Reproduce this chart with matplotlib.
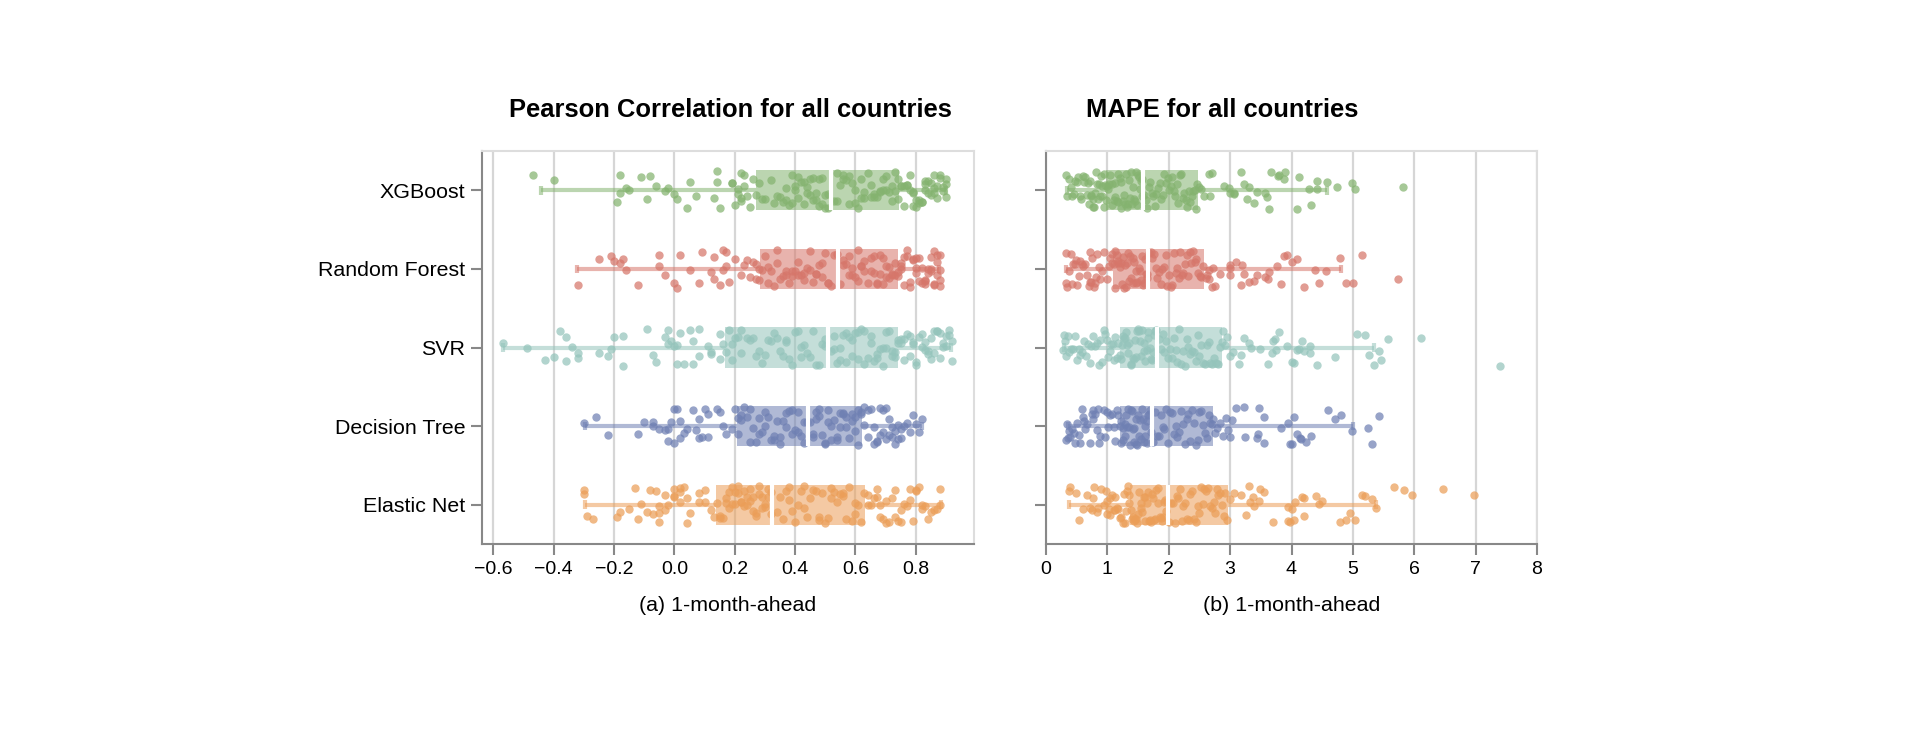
import numpy as np
import matplotlib.pyplot as plt

plt.rcParams['font.family'] = 'Liberation Sans'

# --- data ---
models = ["XGBoost", "Random Forest", "SVR", "Decision Tree", "Elastic Net"]
colors = ["#84b36f", "#d6766a", "#94c4bb", "#6f80b3", "#eb9e58"]

# Pearson correlation per country, 1-month-ahead
pearson_xgb = [
    -0.47, -0.40, -0.19, -0.18, -0.18, -0.16, -0.15, -0.11, -0.09, -0.08, -0.06, -0.03,
    -0.02, 0.00, 0.01, 0.04, 0.05, 0.07, 0.13, 0.14, 0.14, 0.15, 0.19, 0.19, 0.20, 0.21,
    0.21, 0.22, 0.22, 0.22, 0.23, 0.23, 0.24, 0.25, 0.26, 0.27,
    0.28, 0.29, 0.30, 0.32, 0.33, 0.34, 0.35, 0.36, 0.37, 0.37, 0.38, 0.39, 0.39, 0.40,
    0.40, 0.41, 0.41, 0.42, 0.43, 0.43, 0.44, 0.44, 0.45, 0.45, 0.46, 0.46, 0.47, 0.47,
    0.48, 0.48, 0.49, 0.49, 0.50, 0.50, 0.51, 0.51,
    0.53, 0.54, 0.54, 0.55, 0.56, 0.56, 0.57, 0.58, 0.58, 0.59, 0.60, 0.60, 0.61, 0.62,
    0.62, 0.63, 0.63, 0.64, 0.65, 0.65, 0.66, 0.66, 0.67, 0.68, 0.68, 0.69, 0.69, 0.70,
    0.70, 0.71, 0.72, 0.72, 0.73, 0.73, 0.74, 0.74,
    0.75, 0.75, 0.76, 0.76, 0.77, 0.77, 0.78, 0.78, 0.79, 0.79, 0.79, 0.80, 0.80, 0.81,
    0.81, 0.82, 0.82, 0.83, 0.83, 0.83, 0.84, 0.84, 0.85, 0.85, 0.86, 0.86, 0.86, 0.87,
    0.87, 0.88, 0.88, 0.89, 0.89, 0.90, 0.90, 0.90]
pearson_rf = [
    -0.32, -0.25, -0.21, -0.20, -0.18, -0.17, -0.16, -0.12, -0.05, -0.05, -0.03, 0.00,
    0.01, 0.02, 0.05, 0.08, 0.09, 0.12, 0.13, 0.13, 0.15, 0.16, 0.16, 0.17, 0.17, 0.18,
    0.20, 0.22, 0.23, 0.24, 0.25, 0.26, 0.27, 0.27, 0.28, 0.28,
    0.29, 0.30, 0.31, 0.31, 0.32, 0.33, 0.34, 0.34, 0.35, 0.36, 0.37, 0.37, 0.38, 0.39,
    0.39, 0.40, 0.41, 0.41, 0.42, 0.43, 0.43, 0.44, 0.45, 0.45, 0.46, 0.47, 0.47, 0.48,
    0.49, 0.49, 0.50, 0.51, 0.51, 0.52, 0.53, 0.54,
    0.55, 0.56, 0.56, 0.57, 0.58, 0.58, 0.59, 0.59, 0.60, 0.61, 0.61, 0.62, 0.62, 0.63,
    0.63, 0.64, 0.65, 0.65, 0.66, 0.66, 0.67, 0.67, 0.68, 0.68, 0.69, 0.69, 0.70, 0.70,
    0.71, 0.71, 0.72, 0.72, 0.73, 0.73, 0.74, 0.74,
    0.75, 0.75, 0.75, 0.76, 0.76, 0.77, 0.77, 0.78, 0.78, 0.79, 0.79, 0.80, 0.80, 0.80,
    0.81, 0.81, 0.82, 0.82, 0.83, 0.83, 0.83, 0.84, 0.84, 0.85, 0.85, 0.85, 0.86, 0.86,
    0.86, 0.87, 0.87, 0.87, 0.88, 0.88, 0.88, 0.88]
pearson_svr = [
    -0.57, -0.49, -0.43, -0.40, -0.38, -0.36, -0.36, -0.34, -0.32, -0.32, -0.25, -0.22,
    -0.21, -0.20, -0.17, -0.17, -0.09, -0.07, -0.06, -0.03, -0.02, -0.02, -0.01, 0.00,
    0.01, 0.01, 0.02, 0.03, 0.05, 0.06, 0.06, 0.08, 0.08, 0.11, 0.12, 0.12, 0.15, 0.15, 0.16,
    0.17, 0.18, 0.19, 0.19, 0.20, 0.21, 0.22, 0.22, 0.24, 0.25, 0.26, 0.27, 0.28, 0.29,
    0.30, 0.31, 0.32, 0.33, 0.34, 0.35, 0.36, 0.37, 0.37, 0.38, 0.39, 0.40, 0.41, 0.42,
    0.42, 0.43, 0.44, 0.45, 0.46, 0.47, 0.48, 0.49, 0.50, 0.50,
    0.52, 0.53, 0.53, 0.54, 0.55, 0.55, 0.56, 0.57, 0.57, 0.58, 0.59, 0.59, 0.60, 0.61,
    0.61, 0.62, 0.63, 0.63, 0.64, 0.65, 0.65, 0.66, 0.67, 0.67, 0.68, 0.69, 0.69, 0.70,
    0.70, 0.71, 0.72, 0.72, 0.73, 0.73, 0.74, 0.74,
    0.75, 0.75, 0.76, 0.76, 0.77, 0.78, 0.78, 0.79, 0.79, 0.80, 0.80, 0.81, 0.82, 0.82,
    0.83, 0.83, 0.84, 0.84, 0.85, 0.85, 0.86, 0.86, 0.87, 0.87, 0.88, 0.88, 0.89, 0.89,
    0.90, 0.90, 0.91, 0.91, 0.92, 0.92]
pearson_dt = [
    -0.30, -0.26, -0.22, -0.12, -0.10, -0.07, -0.07, -0.05, -0.03, -0.02, -0.02, 0.00,
    0.01, -0.01, 0.00, 0.02, 0.02, 0.03, 0.04, 0.06, 0.08, 0.07, 0.08, 0.09, 0.10, 0.11,
    0.11, 0.14, 0.15, 0.16, 0.17, 0.19, 0.20, 0.21,
    0.21, 0.22, 0.22, 0.23, 0.24, 0.25, 0.25, 0.26, 0.27, 0.28, 0.28, 0.29, 0.30, 0.30,
    0.31, 0.32, 0.33, 0.33, 0.34, 0.35, 0.35, 0.36, 0.37, 0.37, 0.38, 0.39, 0.39, 0.40,
    0.41, 0.41, 0.42, 0.43, 0.43, 0.44,
    0.45, 0.46, 0.46, 0.47, 0.47, 0.48, 0.48, 0.49, 0.50, 0.50, 0.51, 0.51, 0.52, 0.52,
    0.53, 0.54, 0.54, 0.55, 0.55, 0.56, 0.56, 0.57, 0.57, 0.58, 0.59, 0.59, 0.60, 0.60,
    0.61, 0.61, 0.62, 0.62,
    0.63, 0.63, 0.64, 0.64, 0.65, 0.66, 0.66, 0.67, 0.67, 0.68, 0.68, 0.69, 0.69, 0.70,
    0.70, 0.71, 0.71, 0.72, 0.72, 0.73, 0.73, 0.74, 0.74, 0.75, 0.75, 0.76, 0.77, 0.78,
    0.79, 0.80, 0.81, 0.82]
pearson_en = [
    -0.30, -0.30, -0.29, -0.27, -0.19, -0.18, -0.15, -0.13, -0.12, -0.11, -0.09, -0.08,
    -0.07, -0.06, -0.05, -0.05, -0.05, -0.03, -0.03, -0.02, 0.00, 0.00, 0.00, 0.02, 0.02,
    0.02, 0.03, 0.04, 0.04, 0.05, 0.08, 0.08, 0.10, 0.10, 0.12, 0.13,
    0.14, 0.15, 0.15, 0.16, 0.17, 0.17, 0.18, 0.18, 0.19, 0.19, 0.20, 0.20, 0.21, 0.21,
    0.22, 0.22, 0.23, 0.23, 0.24, 0.24, 0.25, 0.25, 0.26, 0.26, 0.27, 0.27, 0.28, 0.28,
    0.29, 0.29, 0.30, 0.30, 0.31, 0.31, 0.32, 0.32,
    0.34, 0.35, 0.36, 0.37, 0.38, 0.38, 0.39, 0.40, 0.41, 0.42, 0.43, 0.43, 0.44, 0.45,
    0.46, 0.47, 0.48, 0.48, 0.49, 0.50, 0.51, 0.52, 0.52, 0.53, 0.54, 0.55, 0.56, 0.56,
    0.57, 0.58, 0.59, 0.60, 0.60, 0.61, 0.62, 0.63,
    0.64, 0.64, 0.65, 0.66, 0.67, 0.67, 0.68, 0.68, 0.69, 0.70, 0.70, 0.71, 0.72, 0.73,
    0.73, 0.74, 0.75, 0.75, 0.76, 0.77, 0.78, 0.78, 0.79, 0.80, 0.80, 0.81, 0.82, 0.82,
    0.83, 0.84, 0.85, 0.86, 0.87, 0.88, 0.88]

# MAPE per country, 1-month-ahead
mape_xgb = [
    0.32, 0.34, 0.37, 0.40, 0.42, 0.45, 0.48, 0.50, 0.52, 0.55, 0.57, 0.60, 0.62, 0.64,
    0.66, 0.68, 0.70, 0.71, 0.73, 0.74, 0.76, 0.77, 0.79, 0.80, 0.82, 0.83, 0.85, 0.86,
    0.88, 0.89, 0.91, 0.92, 0.94, 0.95, 0.96, 0.98,
    1.00, 1.01, 1.03, 1.05, 1.07, 1.08, 1.10, 1.12, 1.13, 1.15, 1.17, 1.18, 1.20, 1.22,
    1.23, 1.25, 1.27, 1.28, 1.30, 1.32, 1.33, 1.35, 1.37, 1.38, 1.40, 1.42, 1.43, 1.45,
    1.47, 1.48, 1.50, 1.52, 1.53, 1.55, 1.56, 1.57,
    1.60, 1.63, 1.65, 1.68, 1.70, 1.73, 1.75, 1.78, 1.80, 1.83, 1.85, 1.88, 1.90, 1.93,
    1.95, 1.98, 2.00, 2.03, 2.05, 2.08, 2.10, 2.13, 2.15, 2.18, 2.20, 2.23, 2.25, 2.28,
    2.30, 2.33, 2.35, 2.38, 2.40, 2.43, 2.45, 2.46,
    2.49, 2.52, 2.57, 2.65, 2.68, 2.70, 2.90, 2.98, 3.00, 3.06, 3.07, 3.17, 3.22, 3.28,
    3.30, 3.39, 3.44, 3.57, 3.60, 3.63, 3.66, 3.78, 3.79, 3.87, 3.90, 4.09, 4.12, 4.28,
    4.32, 4.42, 4.42, 4.58, 4.74, 4.98, 5.04, 5.82]
mape_rf = [
    0.32, 0.33, 0.35, 0.37, 0.40, 0.42, 0.44, 0.47, 0.49, 0.50, 0.53, 0.56, 0.59, 0.61,
    0.63, 0.66, 0.70, 0.71, 0.72, 0.74, 0.75, 0.78, 0.80, 0.82, 0.83, 0.86, 0.88, 0.91,
    0.94, 0.99, 1.02, 1.05, 1.07, 1.08,
    1.10, 1.12, 1.13, 1.15, 1.17, 1.18, 1.20, 1.22, 1.24, 1.25, 1.27, 1.29, 1.30, 1.32,
    1.34, 1.36, 1.37, 1.39, 1.41, 1.42, 1.44, 1.46, 1.47, 1.49, 1.51, 1.53, 1.54, 1.56,
    1.58, 1.59, 1.61, 1.63, 1.64, 1.65,
    1.68, 1.71, 1.73, 1.76, 1.79, 1.81, 1.84, 1.87, 1.89, 1.92, 1.95, 1.97, 2.00, 2.03,
    2.05, 2.08, 2.11, 2.13, 2.16, 2.19, 2.21, 2.24, 2.27, 2.29, 2.32, 2.35, 2.37, 2.40,
    2.43, 2.45, 2.48, 2.51, 2.53, 2.56,
    2.60, 2.63, 2.65, 2.66, 2.70, 2.72, 2.76, 2.84, 2.99, 2.99, 3.00, 3.10, 3.17, 3.20,
    3.22, 3.30, 3.39, 3.43, 3.57, 3.62, 3.64, 3.76, 3.83, 3.87, 3.92, 4.01, 4.09, 4.21,
    4.39, 4.44, 4.57, 4.79, 4.88, 5.00, 5.15, 5.73]
mape_svr = [
    0.27, 0.29, 0.31, 0.33, 0.36, 0.38, 0.41, 0.44, 0.47, 0.50, 0.53, 0.56, 0.59, 0.62,
    0.65, 0.68, 0.71, 0.74, 0.77, 0.80, 0.83, 0.86, 0.88, 0.91, 0.94, 0.96, 0.99, 1.01,
    1.04, 1.06, 1.09, 1.11, 1.13, 1.16, 1.18, 1.20,
    1.22, 1.24, 1.26, 1.27, 1.29, 1.31, 1.32, 1.34, 1.36, 1.38, 1.39, 1.41, 1.43, 1.45,
    1.46, 1.48, 1.50, 1.52, 1.53, 1.55, 1.57, 1.59, 1.60, 1.62, 1.64, 1.66, 1.67, 1.69,
    1.71, 1.73, 1.74, 1.76, 1.78, 1.79,
    1.84, 1.87, 1.90, 1.93, 1.96, 1.99, 2.02, 2.05, 2.08, 2.11, 2.14, 2.17, 2.20, 2.23,
    2.26, 2.29, 2.32, 2.35, 2.38, 2.41, 2.44, 2.47, 2.50, 2.53, 2.56, 2.59, 2.62, 2.65,
    2.68, 2.71, 2.74, 2.77, 2.80, 2.83, 2.86,
    2.89, 2.92, 2.95, 3.00, 3.05, 3.14, 3.18, 3.22, 3.30, 3.34, 3.49, 3.61, 3.68, 3.70,
    3.73, 3.74, 3.79, 3.92, 4.00, 4.04, 4.09, 4.13, 4.17, 4.20, 4.30, 4.30, 4.41, 4.71,
    5.06, 5.20, 5.27, 5.34, 5.42, 5.46, 5.57, 6.11, 7.40]
mape_dt = [
    0.33, 0.34, 0.36, 0.38, 0.39, 0.42, 0.45, 0.48, 0.51, 0.53, 0.56, 0.58, 0.61, 0.62,
    0.64, 0.67, 0.72, 0.75, 0.76, 0.77, 0.80, 0.83, 0.84, 0.86, 0.88, 0.94, 0.96, 0.99,
    1.01, 1.05, 1.07, 1.10, 1.13, 1.16, 1.18, 1.20,
    1.22, 1.23, 1.25, 1.26, 1.28, 1.29, 1.31, 1.32, 1.34, 1.35, 1.37, 1.38, 1.40, 1.41,
    1.43, 1.44, 1.46, 1.47, 1.49, 1.50, 1.52, 1.53, 1.55, 1.56, 1.58, 1.59, 1.61, 1.62,
    1.64, 1.65, 1.67, 1.68, 1.70, 1.71,
    1.75, 1.78, 1.81, 1.84, 1.87, 1.90, 1.93, 1.96, 1.99, 2.02, 2.05, 2.08, 2.11, 2.14,
    2.17, 2.20, 2.23, 2.26, 2.29, 2.32, 2.35, 2.38, 2.41, 2.44, 2.47, 2.50, 2.53, 2.56,
    2.59, 2.62, 2.65, 2.68, 2.70,
    2.72, 2.75, 2.79, 2.84, 2.88, 2.94, 2.97, 3.00, 3.03, 3.10, 3.22, 3.24, 3.44, 3.45,
    3.47, 3.56, 3.56, 3.83, 3.95, 3.97, 4.00, 4.04, 4.09, 4.14, 4.16, 4.24, 4.31, 4.60,
    4.71, 4.80, 4.98, 5.24, 5.31, 5.42]
mape_en = [
    0.38, 0.39, 0.49, 0.53, 0.60, 0.67, 0.72, 0.75, 0.77, 0.78, 0.83, 0.85, 0.89, 0.94,
    0.97, 0.99, 1.00, 1.02, 1.04, 1.05, 1.08, 1.10, 1.12, 1.13, 1.16, 1.17, 1.20, 1.22,
    1.25, 1.27, 1.29, 1.30, 1.32, 1.34, 1.35, 1.36,
    1.38, 1.40, 1.41, 1.43, 1.45, 1.47, 1.48, 1.50, 1.52, 1.54, 1.55, 1.57, 1.59, 1.61,
    1.62, 1.64, 1.66, 1.68, 1.69, 1.71, 1.73, 1.75, 1.76, 1.78, 1.80, 1.82, 1.83, 1.85,
    1.87, 1.89, 1.90, 1.92, 1.94, 1.96, 1.97,
    2.01, 2.04, 2.07, 2.10, 2.13, 2.15, 2.18, 2.21, 2.24, 2.27, 2.30, 2.33, 2.35, 2.38,
    2.41, 2.44, 2.47, 2.50, 2.53, 2.55, 2.58, 2.61, 2.64, 2.67, 2.70, 2.73, 2.75, 2.78,
    2.81, 2.84, 2.87, 2.90, 2.92, 2.95,
    2.99, 3.07, 3.18, 3.26, 3.31, 3.33, 3.37, 3.39, 3.47, 3.49, 3.55, 3.70, 3.94, 3.95,
    3.97, 4.01, 4.04, 4.06, 4.17, 4.20, 4.21, 4.40, 4.44, 4.49, 4.79, 4.89, 4.95, 5.03,
    5.15, 5.20, 5.31, 5.38, 5.67, 5.84, 5.96, 6.47, 6.97]

# box plot summaries as drawn in the figure: q1, median, q3, whisker ends
pearson_q1 = [0.270, 0.284, 0.168, 0.208, 0.138]
pearson_median = [0.520, 0.543, 0.510, 0.444, 0.324]
pearson_q3 = [0.744, 0.740, 0.742, 0.623, 0.632]
pearson_lo = [-0.442, -0.324, -0.569, -0.296, -0.296]
pearson_hi = [0.900, 0.878, 0.917, 0.821, 0.882]

mape_q1 = [0.983, 1.09, 1.21, 1.21, 1.363]
mape_median = [1.58, 1.657, 1.81, 1.727, 1.98]
mape_q3 = [2.47, 2.57, 2.87, 2.72, 2.96]
mape_lo = [0.342, 0.326, 0.288, 0.358, 0.38]
mape_hi = [4.58, 4.80, 5.34, 5.00, 5.38]

pearson_ticks = [-0.6, -0.4, -0.2, 0.0, 0.2, 0.4, 0.6, 0.8]
mape_ticks = [0, 1, 2, 3, 4, 5, 6, 7, 8]

# --- style ---
BOX_H = 0.51
CAP_H = 0.055
JIT = 0.24
AXIS_GREY = "#888888"

rng = np.random.default_rng(3)  # vertical jitter only


def draw_panel(ax, series, q1, med, q3, lo, hi):
    ys = np.arange(len(models))
    ax.barh(ys, np.subtract(q3, q1), left=q1, height=BOX_H, color=colors,
            alpha=0.55, linewidth=0, zorder=2)
    for i, vals in enumerate(series):
        c = colors[i]
        ax.hlines([i, i], [lo[i], q3[i]], [q1[i], hi[i]], color=c, alpha=0.55, lw=3, zorder=2)
        ax.vlines([lo[i], hi[i]], i - CAP_H, i + CAP_H, color=c, alpha=0.55, lw=3, zorder=2)
        jitter = rng.uniform(-JIT, JIT, len(vals))
        ax.scatter(vals, i + jitter, s=36, color=c, alpha=0.72, linewidths=0, zorder=3)
        ax.vlines(med[i], i - BOX_H / 2, i + BOX_H / 2, color="white", lw=3, zorder=4)

    ax.set_ylim(len(models) - 0.5, -0.5)
    ax.set_yticks(ys)
    ax.grid(axis="x", color="#d6d6d6", lw=1.6)
    ax.set_axisbelow(True)
    for side in ["left", "bottom"]:
        ax.spines[side].set_color(AXIS_GREY)
        ax.spines[side].set_linewidth(1.5)
    for side in ["top", "right"]:
        ax.spines[side].set_color("#dddddd")
        ax.spines[side].set_linewidth(1.5)
    ax.tick_params(axis="both", length=8, width=1.5, color=AXIS_GREY, pad=4)
    ax.tick_params(axis="x", labelsize=14)
    ax.tick_params(axis="y", labelsize=15.4)


fig = plt.figure(figsize=(19.2, 7.4), dpi=100)
ax1 = fig.add_axes([482 / 1920, 196 / 740, 492 / 1920, 393 / 740])
ax2 = fig.add_axes([1046 / 1920, 196 / 740, 491 / 1920, 393 / 740])

draw_panel(ax1, [pearson_xgb, pearson_rf, pearson_svr, pearson_dt, pearson_en],
           pearson_q1, pearson_median, pearson_q3, pearson_lo, pearson_hi)
ax1.set_xlim(-0.638, 0.993)
ax1.set_xticks(pearson_ticks)
ax1.set_yticklabels(models)
ax1.set_xlabel("(a) 1-month-ahead", fontsize=15.4, labelpad=13)

draw_panel(ax2, [mape_xgb, mape_rf, mape_svr, mape_dt, mape_en],
           mape_q1, mape_median, mape_q3, mape_lo, mape_hi)
ax2.set_xlim(0, 8)
ax2.set_xticks(mape_ticks)
ax2.set_yticklabels([])
ax2.set_xlabel("(b) 1-month-ahead", fontsize=15.4, labelpad=13)

fig.text(730 / 1920, 1 - 117 / 740, "Pearson Correlation for all countries",
         ha="center", va="baseline", fontsize=18.4, fontweight="bold")
fig.text(1222 / 1920, 1 - 117 / 740, "MAPE for all countries",
         ha="center", va="baseline", fontsize=18.4, fontweight="bold")

fig.savefig("out.png", dpi=100)
